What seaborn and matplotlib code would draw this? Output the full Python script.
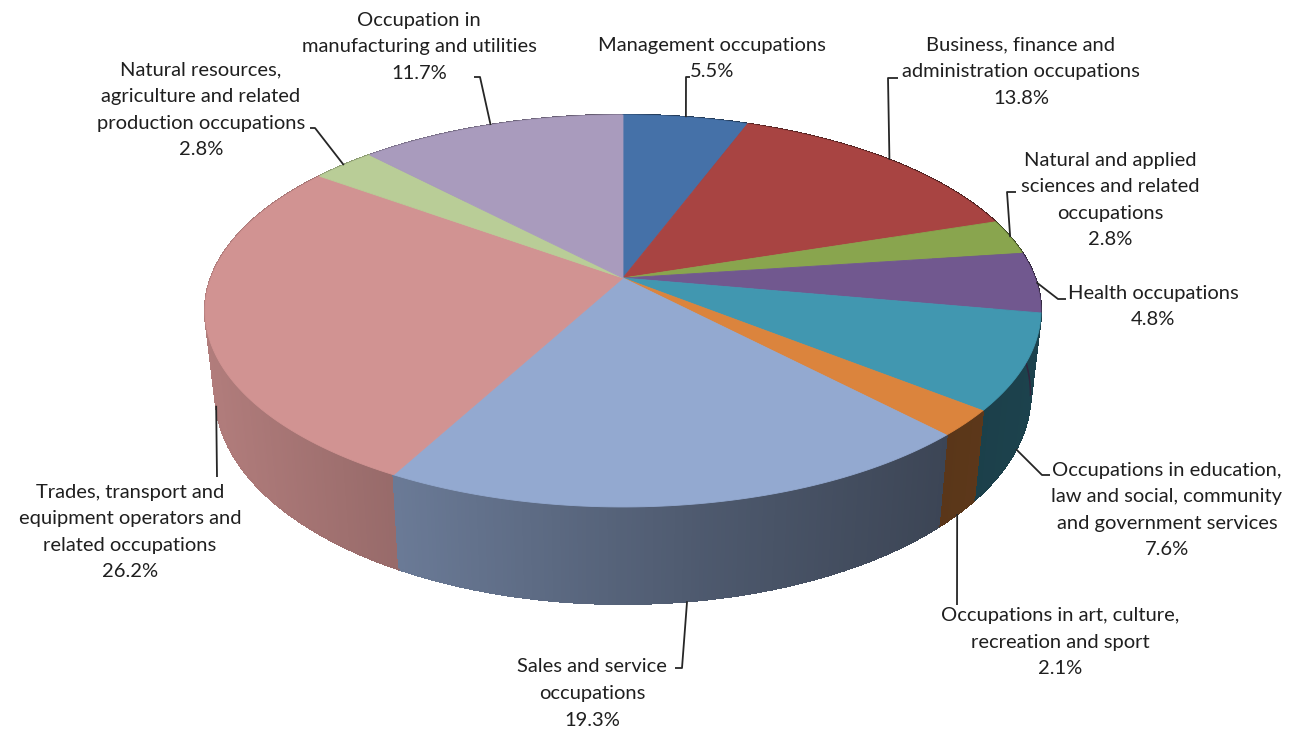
# Occupation shares drawn as a tilted (3-D look) pie, Excel style.

import numpy as np
import matplotlib
matplotlib.use("Agg")
import matplotlib.pyplot as plt
from matplotlib.collections import PolyCollection
import seaborn as sns

categories = [
    "Management occupations",
    "Business, finance and\nadministration occupations",
    "Natural and applied\nsciences and related\noccupations",
    "Health occupations",
    "Occupations in education,\nlaw and social, community\nand government services",
    "Occupations in art, culture,\nrecreation and sport",
    "Sales and service\noccupations",
    "Trades, transport and\nequipment operators and\nrelated occupations",
    "Natural resources,\nagriculture and related\nproduction occupations",
    "Occupation in\nmanufacturing and utilities",
]
shares = [5.5, 13.8, 2.8, 4.8, 7.6, 2.1, 19.3, 26.2, 2.8, 11.7]
colors = ["#4571A8", "#A84442", "#89A54E", "#71588F", "#4197B0",
          "#DB843D", "#93A9D0", "#D19392", "#B9CD97", "#A99BBD"]

# label layout: text centre x, first line y, leader elbow and tail (pixels)
label_x = [712, 1021, 1110, 1153, 1167, 1060, 592, 130, 201, 419]
label_y = [45, 45, 160, 293, 470, 616, 667, 492, 70, 20]
elbows = [(686, 77), (888, 78), (1007, 192), (1058, 299), (1042, 475),
          (957, 605), (682, 668), (217, 477), (315, 128), (480, 77)]
tails = [(690, 77), (898, 78), (1016, 192), (1066, 299), (1050, 475),
         (957, 605), (675, 668), (217, 477), (310, 128), (474, 77)]

sns.set_theme(style="white")
plt.rcParams["font.family"] = ["Lato", "DejaVu Sans"]
palette = sns.color_palette(colors)

# geometry of the tilted disc
CX, CY = 623, 278
RX, RY = 412, 190.5
PERSP = 0.168
DEPTH = 80.6
SHRINK = 0.975


def top_pt(t):
    s = 1.0 / (1.0 + PERSP * np.cos(t))
    return CX + RX * np.sin(t) * s, CY - RY * np.cos(t) * s


def bottom_pt(t):
    s = 1.0 / (1.0 + PERSP * np.cos(t))
    return (CX + RX * np.sin(t) * s * SHRINK,
            CY - RY * np.cos(t) * s + DEPTH * s)


def shade(x):
    return np.interp(x, [205, 400, 700, 945, 1045],
                     [0.85, 0.72, 0.53, 0.41, 0.44])


fracs = np.array(shares) / np.sum(shares)
edges = np.concatenate([[0], np.cumsum(fracs)]) * 2 * np.pi

fig = plt.figure(figsize=(12.99, 7.29), dpi=100)
ax = fig.add_axes([0, 0, 1, 1])
ax.set_xlim(0, 1299)
ax.set_ylim(729, 0)
ax.axis("off")

# side wall, painted back to front
quads, qcols, depth = [], [], []
for i, (a, b) in enumerate(zip(edges[:-1], edges[1:])):
    n = max(2, int(np.degrees(b - a) / 0.5))
    ts = np.linspace(a, b, n + 1)
    for t1, t2 in zip(ts[:-1], ts[1:]):
        p1, p2 = top_pt(t1), top_pt(t2)
        q2, q1 = bottom_pt(t2), bottom_pt(t1)
        quads.append([p1, p2, q2, q1])
        f = shade((p1[0] + p2[0]) / 2)
        qcols.append(tuple(np.array(palette[i]) * f))
        depth.append(np.cos((t1 + t2) / 2))
order = np.argsort(depth)[::-1]
ax.add_collection(PolyCollection([quads[k] for k in order],
                                 facecolors=[qcols[k] for k in order],
                                 edgecolors=[qcols[k] for k in order],
                                 linewidths=1.0, antialiaseds=False,
                                 zorder=2))

# smooth the lower rim of the front wall
for i, (a, b) in enumerate(zip(edges[:-1], edges[1:])):
    ts = np.linspace(a, b, max(3, int(np.degrees(b - a)) * 2))
    ts = ts[np.cos(ts) < 0.05]
    if len(ts) < 2:
        continue
    bx, by = bottom_pt(ts)
    for k in range(len(ts) - 1):
        c = tuple(np.array(palette[i]) * shade((bx[k] + bx[k + 1]) / 2))
        ax.plot(bx[k:k + 2], by[k:k + 2], color=c, lw=1.0, zorder=2.5,
                solid_capstyle="round")

# top face
for i, (a, b) in enumerate(zip(edges[:-1], edges[1:])):
    ts = np.linspace(a, b, max(3, int(np.degrees(b - a))))
    xs, ys = top_pt(ts)
    poly = np.column_stack([np.r_[CX, xs], np.r_[CY, ys]])
    ax.fill(poly[:, 0], poly[:, 1], color=palette[i], lw=0.6,
            ec=palette[i], zorder=3)

# labels with leader lines
for i, text in enumerate(categories):
    mid = (edges[i] + edges[i + 1]) / 2
    if np.cos(mid) < -0.1:
        anchor = bottom_pt(mid)
    else:
        anchor = top_pt(mid)
    ex, ey = elbows[i]
    tx, ty = tails[i]
    ax.plot([anchor[0], ex, tx], [anchor[1], ey, ty], color="#262626",
            lw=1.3, zorder=4, solid_capstyle="butt")
    lines = text.split("\n") + [f"{shares[i]:.1f}%"]
    for j, line in enumerate(lines):
        ax.text(label_x[i], label_y[i] + j * 26.5, line, ha="center",
                va="center", fontsize=14.5, color="#1f1f1f", zorder=5)

fig.savefig("out.png", dpi=100)
